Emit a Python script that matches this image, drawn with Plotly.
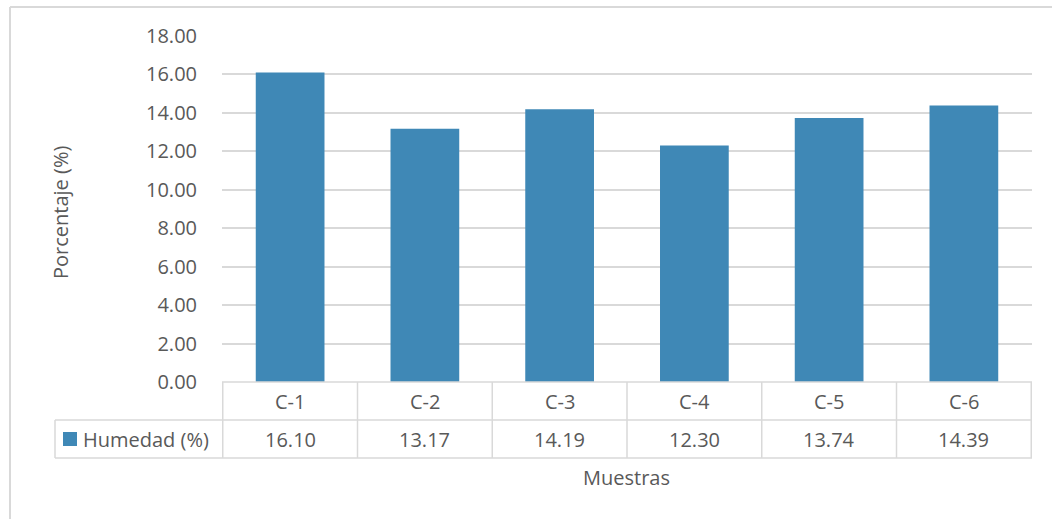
import plotly.graph_objects as go

categories = ["C-1", "C-2", "C-3", "C-4", "C-5", "C-6"]
humedad = [16.10, 13.17, 14.19, 12.30, 13.74, 14.39]
series_name = "Humedad (%)"
y_ticks = [0, 2, 4, 6, 8, 10, 12, 14, 16, 18]

W, H = 1052, 519
L, R, T, B = 222, 1032, 36, 382
pw, ph = R - L, B - T


def px_x(px):
    return (px - L) / pw


def px_y(py):
    return (B - py) / ph


FONT = "Open Sans"
FS = 20
TXT = "#595959"
GRID = "#d9d9d9"
BAR = "#3f88b6"

fig = go.Figure()
fig.add_trace(go.Bar(
    x=categories, y=humedad, name=series_name,
    marker=dict(color=BAR, line=dict(width=0)),
    showlegend=False, hoverinfo="skip",
))

shapes = []
# outer chart border (only top and left edges are inside the picture)
shapes.append(dict(type="line", xref="paper", yref="paper",
                   x0=px_x(10), x1=px_x(1060), y0=px_y(7), y1=px_y(7),
                   line=dict(color=GRID, width=2)))
shapes.append(dict(type="line", xref="paper", yref="paper",
                   x0=px_x(10), x1=px_x(10), y0=px_y(7), y1=px_y(530),
                   line=dict(color=GRID, width=2)))
for py, x0 in [(382, L), (420, 55), (458, 55)]:
    shapes.append(dict(type="line", xref="paper", yref="paper",
                       x0=px_x(x0), x1=1, y0=px_y(py), y1=px_y(py),
                       line=dict(color=GRID, width=1.5)))
shapes.append(dict(type="line", xref="paper", yref="paper",
                   x0=px_x(55), x1=px_x(55), y0=px_y(420), y1=px_y(458),
                   line=dict(color=GRID, width=1.5)))
for i in range(len(categories) + 1):
    shapes.append(dict(type="line", xref="x", yref="paper",
                       x0=i - 0.5, x1=i - 0.5, y0=px_y(382), y1=px_y(458),
                       line=dict(color=GRID, width=1.5)))
shapes.append(dict(type="rect", xref="paper", yref="paper",
                   x0=px_x(63), x1=px_x(77), y0=px_y(446), y1=px_y(432),
                   fillcolor=BAR, line=dict(width=0)))

tf = dict(family=FONT, size=FS, color=TXT)
annotations = []
for c, v in zip(categories, humedad):
    annotations.append(dict(x=c, y=px_y(401), xref="x", yref="paper",
                            text=c, showarrow=False, xanchor="center",
                            yanchor="middle", font=tf))
    annotations.append(dict(x=c, y=px_y(439), xref="x", yref="paper",
                            text=f"{v:.2f}", showarrow=False, xanchor="center",
                            yanchor="middle", font=tf))
annotations.append(dict(x=px_x(81), y=px_y(439), xref="paper", yref="paper",
                        text=series_name, showarrow=False, xanchor="left",
                        yanchor="middle", font=tf))
annotations.append(dict(x=px_x(60), y=px_y(213), xref="paper", yref="paper",
                        text="Porcentaje (%)", showarrow=False, textangle=-90,
                        xanchor="center", yanchor="middle", font=tf))
annotations.append(dict(x=px_x(626), y=px_y(478), xref="paper", yref="paper",
                        text="Muestras", showarrow=False, xanchor="center",
                        yanchor="middle", font=tf))

fig.update_layout(
    width=W, height=H,
    margin=dict(l=L, r=W - R, t=T, b=H - B, pad=0),
    paper_bgcolor="white", plot_bgcolor="white",
    bargap=0.49,
    shapes=shapes, annotations=annotations,
    font=tf,
    xaxis=dict(showticklabels=False, showgrid=False, zeroline=False,
               showline=False, ticks=""),
    yaxis=dict(range=[0, 18], tickvals=y_ticks,
               ticktext=[f"{t:.2f}" for t in y_ticks],
               showgrid=True, gridcolor=GRID, gridwidth=1.5,
               zeroline=False, showline=False, ticks="",
               ticklabelstandoff=24, tickfont=tf),
)

fig.write_html("out.html", config={"displayModeBar": False},
               post_script="document.body.style.margin='0';document.body.style.overflow='hidden';")
